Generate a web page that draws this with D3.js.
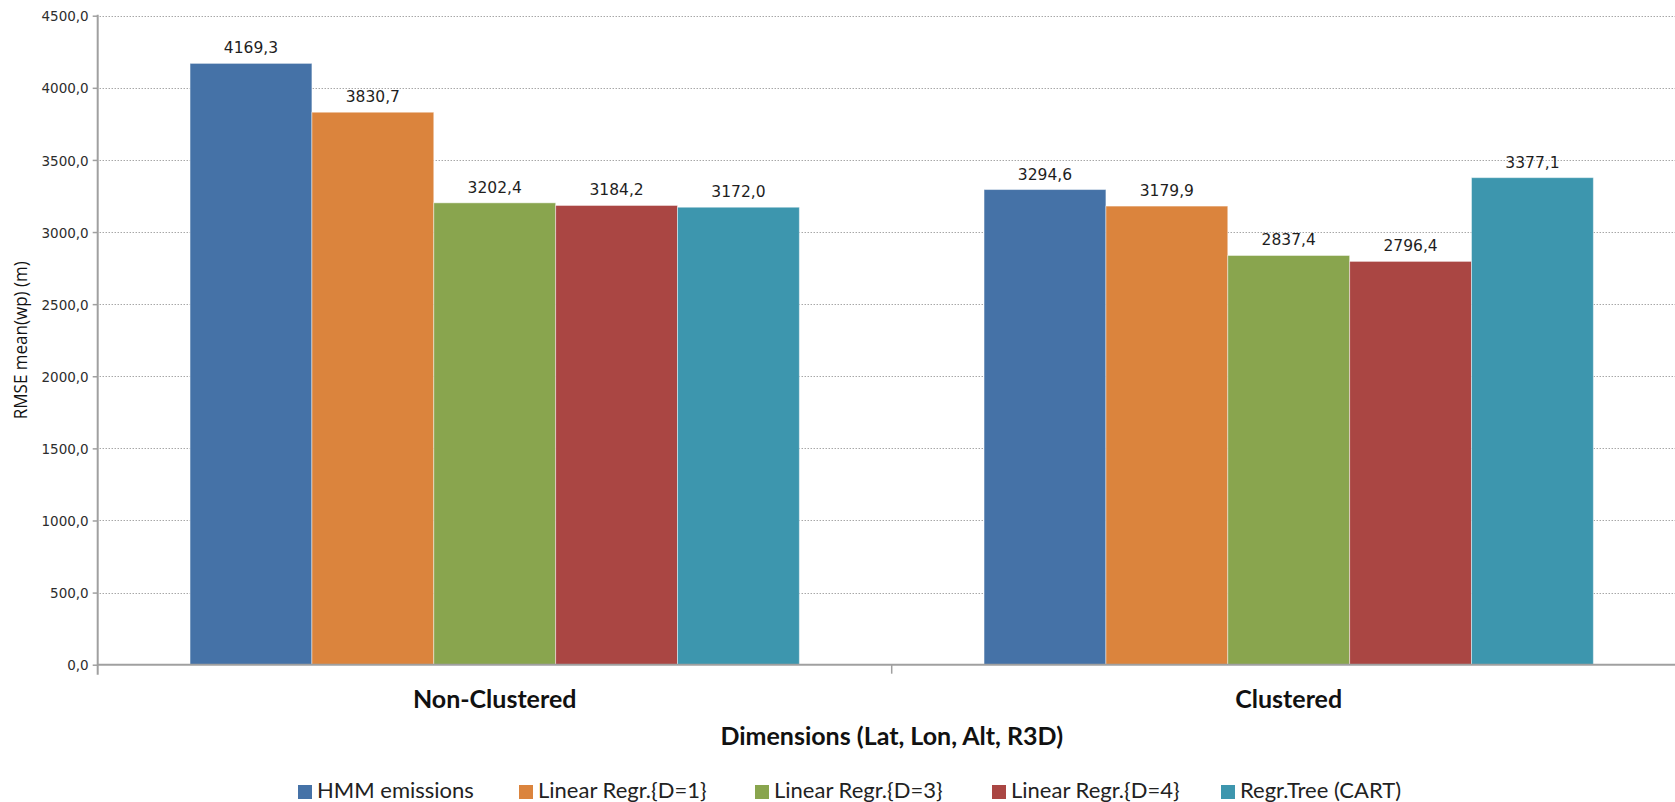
<!DOCTYPE html>
<html>
<head>
<meta charset="utf-8">
<script src="https://cdn.jsdelivr.net/npm/d3@7"></script>
<style>
  html, body { margin: 0; padding: 0; background: #ffffff; }
  svg { display: block; }
</style>
</head>
<body>
<svg id="chart" width="1675" height="802"></svg>
<script>
// Categories on the x axis
const categories = ["Non-Clustered", "Clustered"];

// Series (one per model) and their values per category
const seriesNames = ["HMM emissions", "Linear Regr.{D=1}", "Linear Regr.{D=3}", "Linear Regr.{D=4}", "Regr.Tree (CART)"];
const hmmEmissions = [4169.3, 3294.6];
const linearD1 = [3830.7, 3179.9];
const linearD3 = [3202.4, 2837.4];
const linearD4 = [3184.2, 2796.4];
const regrTree = [3172.0, 3377.1];
const seriesColors = ["#4572A7", "#DB843D", "#89A54E", "#AA4643", "#3D96AE"];

// Y axis ticks
const yTicks = [0, 500, 1000, 1500, 2000, 2500, 3000, 3500, 4000, 4500];
const yTitle = "RMSE mean(wp) (m)";
const xTitle = "Dimensions (Lat, Lon, Alt, R3D)";

const seriesValues = [hmmEmissions, linearD1, linearD3, linearD4, regrTree];

const locale = d3.formatLocale({ decimal: ",", thousands: "", grouping: [3], currency: ["", ""] });
const fmt = locale.format(".1f");

const svg = d3.select("#chart");
const plot = { left: 97.7, right: 1685.7, top: 15.7, bottom: 664.7 };

const y = d3.scaleLinear().domain([0, 4500]).range([plot.bottom, plot.top]);
const x0 = d3.scaleBand().domain(categories).range([plot.left, plot.right])
  .paddingInner(0.2326).paddingOuter(0.1163);
const x1 = d3.scaleBand().domain(seriesNames).range([0, x0.bandwidth()]).padding(0);

// Dotted horizontal grid lines
svg.append("g").selectAll("line")
  .data(yTicks.filter(d => d !== 0))
  .join("line")
  .attr("x1", plot.left + 2)
  .attr("x2", 1675)
  .attr("y1", d => Math.round(y(d)) + 0.5)
  .attr("y2", d => Math.round(y(d)) + 0.5)
  .attr("stroke", "#7f7f7f")
  .attr("stroke-width", 1)
  .attr("stroke-dasharray", "1,2");

// Bars
const groups = svg.append("g").selectAll("g")
  .data(categories)
  .join("g")
  .attr("transform", d => `translate(${x0(d)},0)`);

groups.selectAll("rect")
  .data((c, ci) => seriesNames.map((s, si) => ({ s, si, v: seriesValues[si][ci] })))
  .join("rect")
  .attr("x", d => x1(d.s))
  .attr("y", d => y(d.v))
  .attr("width", x1.bandwidth())
  .attr("height", d => y(0) - y(d.v))
  .attr("fill", d => seriesColors[d.si])
  .attr("stroke", "#ffffff")
  .attr("stroke-opacity", 0.45)
  .attr("stroke-width", 1);

// Value labels above bars
groups.selectAll("text.value")
  .data((c, ci) => seriesNames.map((s, si) => ({ s, si, v: seriesValues[si][ci] })))
  .join("text")
  .attr("class", "value")
  .attr("x", d => x1(d.s) + x1.bandwidth() / 2)
  .attr("y", d => y(d.v) - 10)
  .attr("text-anchor", "middle")
  .attr("font-family", "DejaVu Sans, sans-serif")
  .attr("font-size", "15.5px")
  .attr("fill", "#1e1e1e")
  .text(d => fmt(d.v));

// Y axis
const yAxis = d3.axisLeft(y).tickValues(yTicks).tickSize(5).tickPadding(4).tickFormat(fmt);
const yAxisG = svg.append("g")
  .attr("transform", `translate(${plot.left},0)`)
  .call(yAxis);
yAxisG.select(".domain").remove();
yAxisG.selectAll(".tick line").attr("stroke", "#a0a0a0").attr("stroke-width", 1.5);
yAxisG.selectAll(".tick text")
  .attr("font-family", "DejaVu Sans, sans-serif")
  .attr("font-size", "13.5px")
  .attr("fill", "#2d2d2d")
  .attr("dy", "0.38em");
yAxisG.append("line")
  .attr("x1", 0).attr("x2", 0)
  .attr("y1", plot.top - 1).attr("y2", plot.bottom + 10)
  .attr("stroke", "#a0a0a0").attr("stroke-width", 2);

// X axis baseline and category boundary ticks
const xg = svg.append("g");
xg.append("line")
  .attr("x1", plot.left).attr("x2", 1675)
  .attr("y1", y(0)).attr("y2", y(0))
  .attr("stroke", "#a0a0a0").attr("stroke-width", 2);
const boundaries = categories.slice(1).map(c => x0(c) - x0.step() * x0.paddingInner() / 2);
xg.selectAll("line.tick")
  .data(boundaries)
  .join("line")
  .attr("class", "tick")
  .attr("x1", d => d).attr("x2", d => d)
  .attr("y1", y(0)).attr("y2", y(0) + 9)
  .attr("stroke", "#a0a0a0").attr("stroke-width", 1.5);

// Category labels
xg.selectAll("text.cat")
  .data(categories)
  .join("text")
  .attr("class", "cat")
  .attr("x", d => x0(d) + x0.bandwidth() / 2)
  .attr("y", 708)
  .attr("text-anchor", "middle")
  .attr("font-family", "Lato, sans-serif")
  .attr("font-weight", "bold")
  .attr("font-size", "25px")
  .attr("fill", "#111")
  .text(d => d);

// Axis titles
svg.append("text")
  .attr("x", (plot.left + plot.right) / 2)
  .attr("y", 745)
  .attr("text-anchor", "middle")
  .attr("font-family", "Lato, sans-serif")
  .attr("font-weight", "bold")
  .attr("font-size", "25px")
  .attr("fill", "#111")
  .text(xTitle);

svg.append("text")
  .attr("transform", `translate(27,${(plot.top + plot.bottom) / 2}) rotate(-90)`)
  .attr("text-anchor", "middle")
  .attr("font-family", "Open Sans, sans-serif")
  .attr("font-size", "17.5px")
  .attr("textLength", 158)
  .attr("lengthAdjust", "spacingAndGlyphs")
  .attr("fill", "#111")
  .text(yTitle);

// Legend: one swatch + label per series, laid out left to right
const legendX = [298, 519, 755, 992, 1221];
const items = svg.append("g").selectAll("g")
  .data(seriesNames)
  .join("g")
  .attr("transform", (d, i) => `translate(${legendX[i]},798)`);
items.append("rect")
  .attr("width", 14).attr("height", 14)
  .attr("y", -13)
  .attr("fill", (d, i) => seriesColors[i]);
items.append("text")
  .attr("x", 19)
  .attr("y", 0)
  .attr("font-family", "Lato, sans-serif")
  .attr("font-size", "22px")
  .attr("fill", "#222")
  .text(d => d);
</script>
</body>
</html>
